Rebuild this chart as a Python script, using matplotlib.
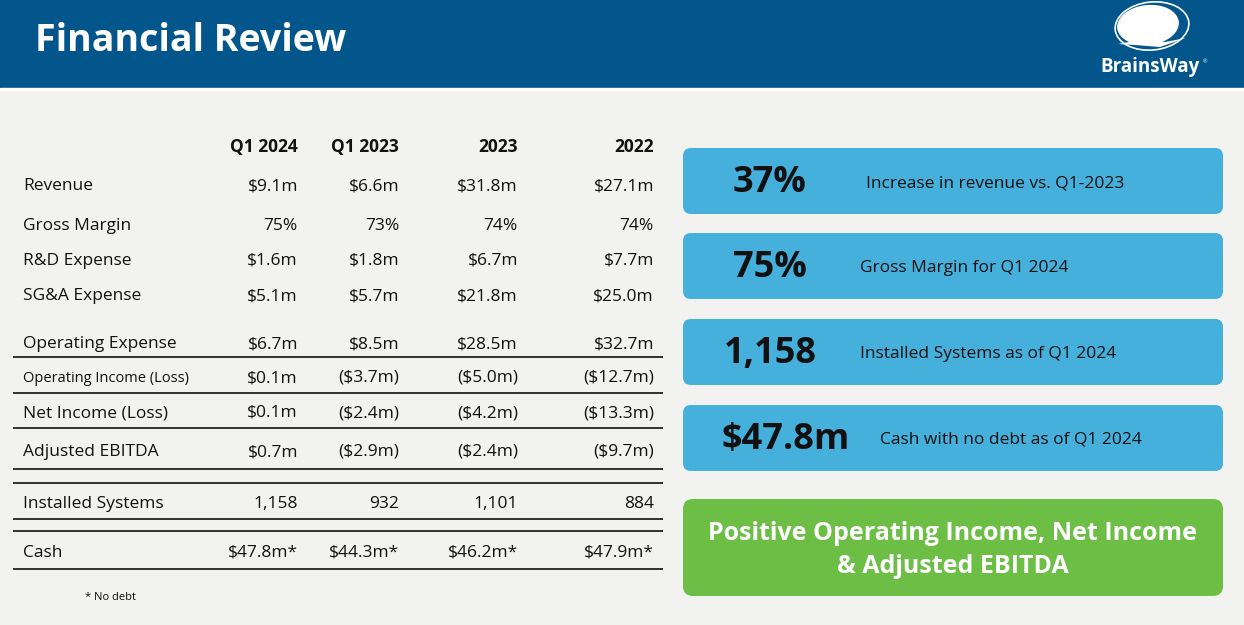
import matplotlib
matplotlib.use("Agg")
import matplotlib.pyplot as plt
from matplotlib.patches import FancyBboxPatch, Rectangle, Ellipse, Polygon

# ---------------- data ----------------
columns = ["Q1 2024", "Q1 2023", "2023", "2022"]
row_labels = ["Revenue", "Gross Margin", "R&D Expense", "SG&A Expense",
              "Operating Expense", "Operating Income (Loss)", "Net Income (Loss)",
              "Adjusted EBITDA", "Installed Systems", "Cash"]
q1_2024 = ["$9.1m", "75%", "$1.6m", "$5.1m", "$6.7m", "$0.1m", "$0.1m", "$0.7m", "1,158", "$47.8m*"]
q1_2023 = ["$6.6m", "73%", "$1.8m", "$5.7m", "$8.5m", "($3.7m)", "($2.4m)", "($2.9m)", "932", "$44.3m*"]
fy_2023 = ["$31.8m", "74%", "$6.7m", "$21.8m", "$28.5m", "($5.0m)", "($4.2m)", "($2.4m)", "1,101", "$46.2m*"]
fy_2022 = ["$27.1m", "74%", "$7.7m", "$25.0m", "$32.7m", "($12.7m)", "($13.3m)", "($9.7m)", "884", "$47.9m*"]
highlights = ["37%", "75%", "1,158", "$47.8m"]
highlight_text = ["Increase in revenue vs. Q1-2023", "Gross Margin for Q1 2024",
                  "Installed Systems as of Q1 2024", "Cash with no debt as of Q1 2024"]
summary = "Positive Operating Income, Net Income\n& Adjusted EBITDA"
footnote = "* No debt"
title = "Financial Review"

# ---------------- layout ----------------
W, H = 1244, 625
fig = plt.figure(figsize=(W / 100, H / 100), dpi=100)
ax = fig.add_axes([0, 0, 1, 1])
ax.set_xlim(0, W)
ax.set_ylim(H, 0)
ax.axis("off")
fig.patch.set_facecolor("#F2F2F1")

FONT = "Open Sans"
DARK = "#111111"
DY = 2  # vertical text nudge

# header band
ax.add_patch(Rectangle((0, 0), W, 88, color="#02568B", zorder=1))
ax.add_patch(Rectangle((0, 88), W, 2, color="#FFFFFF", zorder=1))
ax.text(35, 41, title, color="white", fontsize=27, fontweight="bold",
        family=FONT, va="center", ha="left", zorder=3)

# logo
ax.add_patch(Ellipse((1152, 26), 74, 48, angle=-6, facecolor="none",
                     edgecolor="white", lw=1.2, zorder=3))
ax.add_patch(Ellipse((1148, 25), 62, 40, angle=-6, facecolor="white",
                     edgecolor="none", zorder=3))
ax.add_patch(Polygon([(1118, 44), (1140, 40), (1165, 42), (1186, 38),
                      (1160, 47), (1135, 45)], closed=True,
                     facecolor="white", edgecolor="none", zorder=3))
ax.text(1150, 67, "BrainsWay", color="white", fontsize=13.5, fontweight="bold",
        family=FONT, ha="center", va="center", zorder=3)
ax.text(1205, 62, "®", color="white", fontsize=4, family=FONT,
        ha="center", va="center", zorder=3)

# table
col_x = [298, 399, 518, 654]
for x, c in zip(col_x, columns):
    ax.text(x, 145 + DY, c, fontsize=12.5, fontweight="bold", family=FONT,
            ha="right", va="center", color=DARK)

row_y = [184, 224, 259, 294, 342, 376, 411, 450, 502, 551]
row_size = [12.5] * len(row_labels)
row_size[5] = 10.5
cols_data = [q1_2024, q1_2023, fy_2023, fy_2022]
for i, (lab, y) in enumerate(zip(row_labels, row_y)):
    ax.text(23, y + DY, lab, fontsize=row_size[i], family=FONT, ha="left",
            va="center", color=DARK)
    for x, data in zip(col_x, cols_data):
        ax.text(x, y + DY, data[i], fontsize=12.5, family=FONT, ha="right",
                va="center", color=DARK)

line_y = [357, 393, 428, 469, 483, 519, 531, 569]
for y in line_y:
    ax.plot([13, 663], [y, y], color="#222222", lw=1.3, zorder=2,
            solid_capstyle="butt")

ax.text(85, 597, footnote, fontsize=8, family=FONT, ha="left", va="center",
        color=DARK)

# highlight boxes
box_top = [148, 233, 319, 405]
box_h = 66
num_x = [770, 770, 770, 786]
txt_x = [866, 860, 860, 880]
for top, num, txt, nx, tx in zip(box_top, highlights, highlight_text, num_x, txt_x):
    ax.add_patch(FancyBboxPatch((683 + 8, top + 8), 540 - 16, box_h - 16,
                                boxstyle="round,pad=8", facecolor="#46B0DC",
                                edgecolor="none", zorder=2))
    cy = top + box_h / 2
    ax.text(nx, cy + DY, num, fontsize=26, fontweight="bold", family=FONT,
            ha="center", va="center", color=DARK, zorder=3)
    ax.text(tx, cy + DY, txt, fontsize=12.5, family=FONT, ha="left",
            va="center", color=DARK, zorder=3)

ax.add_patch(FancyBboxPatch((683 + 10, 499 + 10), 540 - 20, 97 - 20,
                            boxstyle="round,pad=10", facecolor="#6CBE45",
                            edgecolor="none", zorder=2))
ax.text(953, 548 + DY, summary, fontsize=18, fontweight="bold", family=FONT,
        ha="center", va="center", color="white", linespacing=1.45, zorder=3)

fig.savefig("out.png", dpi=100, facecolor=fig.get_facecolor())
